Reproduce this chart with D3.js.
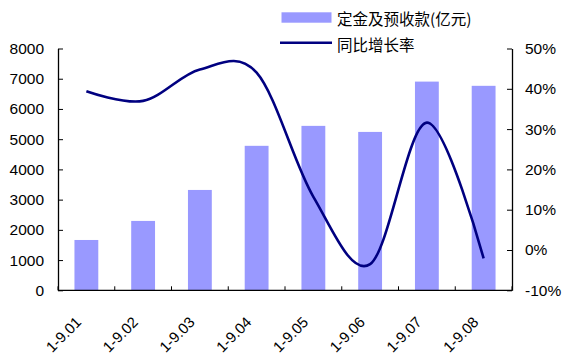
<!DOCTYPE html>
<html>
<head>
<meta charset="utf-8">
<script src="https://cdn.jsdelivr.net/npm/d3@7"></script>
<style>
  html, body { margin: 0; padding: 0; background: #fff; }
  svg text { font-family: "Liberation Sans", Arial, sans-serif; fill: #000; }
  .cjk { font-family: "Noto Sans CJK SC", "Liberation Sans", sans-serif; }
</style>
</head>
<body>
<svg id="chart" width="563" height="354"></svg>
<script>
// Monthly cumulative periods
const categories = ["1-9.01", "1-9.02", "1-9.03", "1-9.04", "1-9.05", "1-9.06", "1-9.07", "1-9.08"];
// 定金及预收款 (亿元)
const deposits = [1665, 2295, 3320, 4780, 5440, 5240, 6905, 6765];
// 同比增长率 (%)
const growth = [39.4, 37.0, 44.8, 44.0, 13.2, -3.5, 31.6, -2.1];
const leftTicks = [0, 1000, 2000, 3000, 4000, 5000, 6000, 7000, 8000];
const rightTicks = [-10, 0, 10, 20, 30, 40, 50];

const svg = d3.select("#chart");
const plot = { left: 58, right: 512, top: 48.5, bottom: 290.3 };

const x = d3.scaleBand().domain(categories).range([plot.left, plot.right]).paddingInner(0).paddingOuter(0);
const yL = d3.scaleLinear().domain([0, 8000]).range([plot.bottom, plot.top]);
const yR = d3.scaleLinear().domain([-10, 50]).range([plot.bottom, plot.top]);

const barW = x.bandwidth() * 0.42;

// Bars
svg.append("g").selectAll("rect").data(categories).join("rect")
  .attr("x", (d) => x(d) + x.bandwidth() / 2 - barW / 2)
  .attr("y", (d, i) => yL(deposits[i]))
  .attr("width", barW)
  .attr("height", (d, i) => yL(0) - yL(deposits[i]))
  .attr("fill", "#9999FF");

// Smoothed growth line
const line = d3.line()
  .x((d, i) => x(categories[i]) + x.bandwidth() / 2)
  .y((d) => yR(d))
  .curve(d3.curveCatmullRom.alpha(0));
svg.append("path").datum(growth)
  .attr("d", line)
  .attr("fill", "none")
  .attr("stroke", "#000080")
  .attr("stroke-width", 2.6);

// Left axis
const gL = svg.append("g").attr("transform", `translate(${plot.left},0)`)
  .call(d3.axisLeft(yL).tickValues(leftTicks).tickFormat(d3.format("d"))
    .tickSizeInner(-5).tickSizeOuter(0).tickPadding(14));
// Right axis
const gR = svg.append("g").attr("transform", `translate(${plot.right},0)`)
  .call(d3.axisRight(yR).tickValues(rightTicks).tickFormat((d) => d + "%")
    .tickSizeInner(-5).tickSizeOuter(0).tickPadding(13));
// Bottom axis with ticks at category boundaries
const boundaries = d3.range(categories.length + 1).map((i) => plot.left + i * x.bandwidth());
const gB = svg.append("g");
gB.append("line").attr("x1", plot.left).attr("x2", plot.right)
  .attr("y1", plot.bottom).attr("y2", plot.bottom).attr("stroke", "#000").attr("stroke-width", 1.3);
gB.selectAll("line.tick").data(boundaries).join("line").attr("class", "tick")
  .attr("x1", (d) => d).attr("x2", (d) => d)
  .attr("y1", plot.bottom).attr("y2", plot.bottom - 4)
  .attr("stroke", "#000").attr("stroke-width", 1);
gB.selectAll("text").data(categories).join("text")
  .attr("transform", (d) => `translate(${x(d) + x.bandwidth() / 2 - 8},${plot.bottom + 29}) rotate(-45)`)
  .attr("text-anchor", "end")
  .attr("dominant-baseline", "central")
  .style("font-size", "15px")
  .text((d) => d);

[gL, gR].forEach((g) => {
  g.select(".domain").attr("stroke", "#000").attr("stroke-width", 1.3);
  g.selectAll(".tick line").attr("stroke", "#000");
  g.selectAll(".tick text").style("font-size", "15.5px").style("font-family", "Liberation Sans, Arial, sans-serif");
});

// Legend
const leg = svg.append("g");
leg.append("rect").attr("x", 281.5).attr("y", 12.3).attr("width", 50).attr("height", 10.4).attr("fill", "#9999FF");
leg.append("text").attr("class", "cjk").attr("x", 337).attr("y", 17.5)
  .attr("dominant-baseline", "central").style("font-size", "15.5px").text("定金及预收款(亿元)");
leg.append("line").attr("x1", 280).attr("x2", 332).attr("y1", 42.7).attr("y2", 42.7)
  .attr("stroke", "#000080").attr("stroke-width", 2.6);
leg.append("text").attr("class", "cjk").attr("x", 337).attr("y", 43.5)
  .attr("dominant-baseline", "central").style("font-size", "15.5px").text("同比增长率");
</script>
</body>
</html>
